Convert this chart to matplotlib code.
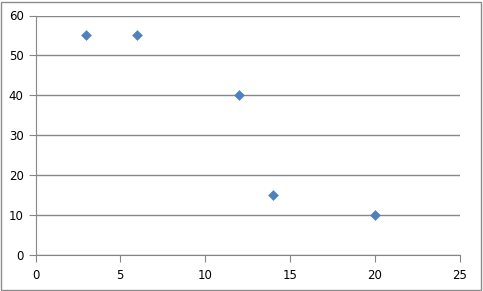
import matplotlib.pyplot as plt
from matplotlib.patches import Rectangle

x_vals = [3, 6, 12, 14, 20]
y_vals = [55, 55, 40, 15, 10]
x_ticks = [0, 5, 10, 15, 20, 25]
y_ticks = [0, 10, 20, 30, 40, 50, 60]

fig = plt.figure(figsize=(4.83, 2.91), dpi=100)
ax = fig.add_axes([35.5 / 483, 36 / 291, 424 / 483, 239.5 / 291])

# grey frame around the whole chart, like Excel
fig.patches.append(Rectangle((1 / 483, 1 / 291), 480 / 483, 288 / 291, transform=fig.transFigure,
                             fill=False, edgecolor='#8c8c8c', linewidth=1))

ax.scatter(x_vals, y_vals, marker='D', s=30, color='#4F81BD', zorder=3, linewidths=0)

ax.set_xlim(0, 25)
ax.set_ylim(0, 60)
ax.set_xticks(x_ticks)
ax.set_yticks(y_ticks)
ax.yaxis.grid(True, color='#868686', linewidth=1)
ax.set_axisbelow(True)

for side in ['top', 'right']:
    ax.spines[side].set_visible(False)
for side in ['left', 'bottom']:
    ax.spines[side].set_color('#868686')
ax.tick_params(colors='#868686', length=5, direction='out', labelcolor='black', labelsize=8.5)
ax.tick_params(axis='x', pad=5)

fig.savefig('out.png', dpi=100)
